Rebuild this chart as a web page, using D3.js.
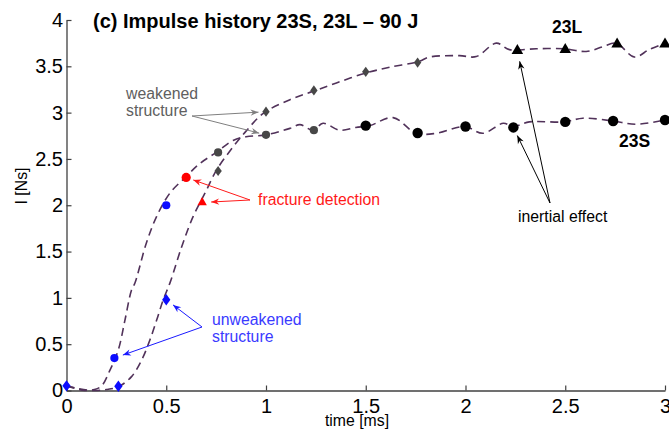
<!DOCTYPE html>
<html lang="en">
<head>
<meta charset="UTF-8">
<title>Impulse history 23S, 23L</title>
<script src="https://cdn.jsdelivr.net/npm/d3@7"></script>
<style>
    body { margin: 0; background: #fff; }
    text { font-family: "Liberation Sans", Arial, sans-serif; }
</style>
</head>
<body>
<script>

    var width = 669;
    var height = 435;

    // dashed impulse curves (time in ms, impulse in Ns)
    var curveTimeS = [0, 0.05, 0.09, 0.14, 0.176, 0.218, 0.26, 0.293, 0.326, 0.343, 0.40, 0.452, 0.518, 0.60, 0.668, 0.75, 0.835, 0.9, 1.0, 1.12, 1.17, 1.236, 1.286, 1.37, 1.45, 1.52, 1.637, 1.753, 1.854, 1.996, 2.087, 2.19, 2.237, 2.32, 2.496, 2.588, 2.738, 2.855, 3.0];
    var curveImpS = [0.05, 0.02, 0.0, 0.01, 0.05, 0.22, 0.44, 0.76, 1.085, 1.16, 1.59, 1.88, 2.13, 2.31, 2.45, 2.57, 2.70, 2.74, 2.76, 2.83, 2.87, 2.81, 2.885, 2.81, 2.84, 2.86, 2.946, 2.777, 2.777, 2.85, 2.777, 2.885, 2.85, 2.90, 2.90, 2.94, 2.91, 2.875, 2.92];

    var curveTimeL = [0, 0.06, 0.134, 0.2, 0.26, 0.326, 0.377, 0.418, 0.452, 0.485, 0.52, 0.577, 0.635, 0.694, 0.752, 0.835, 0.9, 0.985, 1.12, 1.236, 1.353, 1.495, 1.62, 1.762, 1.82, 1.97, 2.054, 2.154, 2.22, 2.355, 2.496, 2.605, 2.688, 2.755, 2.847, 2.92, 3.0];
    var curveImpL = [0.05, 0.02, 0.0, 0.01, 0.04, 0.15, 0.33, 0.545, 0.76, 0.98, 1.17, 1.55, 1.88, 2.13, 2.38, 2.63, 2.80, 2.99, 3.14, 3.23, 3.32, 3.425, 3.49, 3.55, 3.60, 3.615, 3.605, 3.75, 3.68, 3.69, 3.69, 3.66, 3.71, 3.75, 3.60, 3.68, 3.75];

    // measured points
    var markTimeS = [0.24, 0.5, 0.6, 0.76, 1.0, 1.24, 1.5, 1.76, 2.0, 2.24, 2.5, 2.74, 3.0];
    var markImpS = [0.35, 2.0, 2.30, 2.57, 2.76, 2.81, 2.86, 2.78, 2.85, 2.84, 2.90, 2.91, 2.92];
    var markStateS = ['unweakened', 'unweakened', 'fracture', 'weakened', 'weakened', 'weakened', 'late', 'late', 'late', 'late', 'late', 'late', 'late'];

    var markTimeL = [0, 0.26, 0.5, 0.68, 0.76, 1.0, 1.24, 1.5, 1.76, 2.26, 2.5, 2.76, 3.0];
    var markImpL = [0.05, 0.045, 0.98, 2.03, 2.37, 3.01, 3.24, 3.44, 3.54, 3.67, 3.68, 3.74, 3.74];
    var markStateL = ['unweakened', 'unweakened', 'unweakened', 'fracture', 'weakened', 'weakened', 'weakened', 'weakened', 'weakened', 'late', 'late', 'late', 'late'];

    var xTicks = [0, 0.5, 1, 1.5, 2, 2.5, 3];
    var yTicks = [0, 0.5, 1, 1.5, 2, 2.5, 3, 3.5, 4];

    var stateColor = {unweakened: '#0c0cff', fracture: '#ff0000', weakened: '#474747', late: '#000000'};

    var svg = d3.select('body')
        .append('svg')
        .attr('width', width)
        .attr('height', height);

    var x = d3.scaleLinear().domain([0, 3]).range([66.5, 665]);
    var y = d3.scaleLinear().domain([0, 4]).range([390.5, 20]);

    // axes, ticks pointing inward like matlab
    var xAxis = d3.axisBottom(x)
        .tickValues(xTicks)
        .tickFormat(d3.format(''))
        .tickSizeInner(-5)
        .tickSizeOuter(0)
        .tickPadding(8.5);

    var yAxis = d3.axisLeft(y)
        .tickValues(yTicks)
        .tickFormat(d3.format(''))
        .tickSizeInner(-5)
        .tickSizeOuter(0)
        .tickPadding(3.5);

    var gx = svg.append('g')
        .attr('transform', 'translate(0,390.5)')
        .call(xAxis);

    var gy = svg.append('g')
        .attr('transform', 'translate(66.5,0)')
        .call(yAxis);

    [gx, gy].forEach(function (g) {
        g.attr('font-family', null).attr('font-size', null);
        g.select('.domain').attr('stroke', '#404040').attr('stroke-width', 1.3);
        g.selectAll('.tick line').attr('stroke', '#404040').attr('stroke-width', 1.2);
        g.selectAll('.tick text').attr('fill', '#000').style('font-size', '20px');
    });

    svg.append('text')
        .attr('x', 357)
        .attr('y', 426)
        .attr('text-anchor', 'middle')
        .style('font-size', '15.8px')
        .text('time [ms]');

    svg.append('text')
        .attr('transform', 'translate(27,186) rotate(-90)')
        .attr('text-anchor', 'middle')
        .style('font-size', '15.8px')
        .text('I [Ns]');

    // dashed curves
    var line = d3.line()
        .x(function (d) { return x(d[0]); })
        .y(function (d) { return y(d[1]); })
        .curve(d3.curveCatmullRom.alpha(0.5));

    [[curveTimeS, curveImpS], [curveTimeL, curveImpL]].forEach(function (c) {
        svg.append('path')
            .datum(d3.zip(c[0], c[1]))
            .attr('d', line)
            .attr('fill', 'none')
            .attr('stroke', '#51325a')
            .attr('stroke-width', 1.6)
            .attr('stroke-dasharray', '8,5');
    });

    // 23S markers: circles
    svg.selectAll('circle.s')
        .data(d3.zip(markTimeS, markImpS, markStateS))
        .enter()
        .append('circle')
        .attr('class', 's')
        .attr('cx', function (d) { return x(d[0]); })
        .attr('cy', function (d) { return y(d[1]); })
        .attr('r', function (d) { return d[2] === 'late' ? 5.2 : (d[2] === 'fracture' ? 4.6 : 4.1); })
        .attr('fill', function (d) { return stateColor[d[2]]; });

    // 23L markers: diamonds, then triangles
    var diamond = d3.symbol().type(d3.symbolDiamond);
    var triangle = d3.symbol().type(d3.symbolTriangle);

    svg.selectAll('path.l')
        .data(d3.zip(markTimeL, markImpL, markStateL))
        .enter()
        .append('path')
        .attr('class', 'l')
        .attr('transform', function (d) {
            var t = 'translate(' + x(d[0]) + ',' + y(d[1]) + ')';
            return (d[2] === 'late' || d[2] === 'fracture') ? t : t + ' scale(1.25,1)';
        })
        .attr('d', function (d) {
            if (d[2] === 'late') return triangle.size(58)();
            if (d[2] === 'fracture') return triangle.size(38)();
            if (d[2] === 'unweakened') return diamond.size(38)();
            return diamond.size(30)();
        })
        .attr('fill', function (d) { return stateColor[d[2]]; });

    // annotations
    svg.append('defs').selectAll('marker')
        .data([['gray', '#7f7f7f'], ['red', '#ff1a1a'], ['blue', '#1a1aff'], ['black', '#000']])
        .enter()
        .append('marker')
        .attr('id', function (d) { return 'head-' + d[0]; })
        .attr('viewBox', '-9 -4 10 8')
        .attr('markerWidth', 10)
        .attr('markerHeight', 8)
        .attr('markerUnits', 'userSpaceOnUse')
        .attr('orient', 'auto')
        .append('path')
        .attr('d', 'M0,0L-8,-3.2L-5.5,0L-8,3.2Z')
        .attr('fill', function (d) { return d[1]; });

    function arrow(x0, y0, tx, ty, back, name, color) {
        var dx = tx - x0, dy = ty - y0, len = Math.sqrt(dx * dx + dy * dy);
        var k = (len - back) / len;
        svg.append('line')
            .attr('x1', x0).attr('y1', y0)
            .attr('x2', x0 + dx * k).attr('y2', y0 + dy * k)
            .attr('stroke', color)
            .attr('stroke-width', 1)
            .attr('marker-end', 'url(#head-' + name + ')');
    }

    function label(lines, lx, ly, color, bold, size) {
        var t = svg.append('text')
            .attr('x', lx)
            .attr('y', ly)
            .attr('fill', color)
            .style('font-size', size + 'px')
            .style('font-weight', bold ? 'bold' : 'normal');
        lines.forEach(function (s, i) {
            t.append('tspan').attr('x', lx).attr('dy', i === 0 ? 0 : '1.1em').text(s);
        });
    }

    label(['(c) Impulse history 23S, 23L \u2013 90 J'], 93, 28, '#000', true, 20);
    label(['23L'], 552, 33, '#000', true, 17.5);
    label(['23S'], 619, 147, '#000', true, 17.5);

    label(['weakened', 'structure'], 126, 98.5, '#606060', false, 15.8);
    arrow(192, 116, x(1.0), y(3.01), 7.5, 'gray', '#7f7f7f');
    arrow(192, 116, x(1.0), y(2.76), 7, 'gray', '#7f7f7f');

    label(['fracture detection'], 258, 205, '#ff1a1a', false, 15.8);
    arrow(250, 200, x(0.6), y(2.30), 7.5, 'red', '#ff1a1a');
    arrow(250, 200, x(0.68), y(2.03), 9, 'red', '#ff1a1a');

    label(['unweakened', 'structure'], 212, 325, '#3a3aff', false, 15.8);
    arrow(202, 327, x(0.5), y(0.98), 8.5, 'blue', '#1a1aff');
    arrow(202, 327, x(0.24), y(0.35), 9, 'blue', '#1a1aff');

    label(['inertial effect'], 518, 221.5, '#000', false, 15.8);
    arrow(550, 203, x(2.26), y(3.67), 11, 'black', '#000');
    arrow(550, 203, x(2.24), y(2.84), 9, 'black', '#000');

</script>
</body>
</html>
